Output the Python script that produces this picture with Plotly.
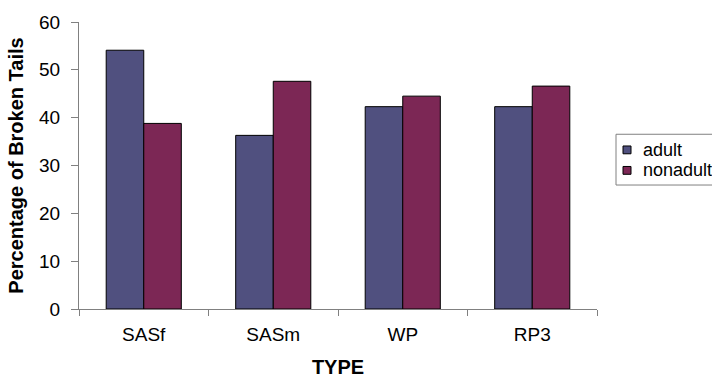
import plotly.graph_objects as go

categories = ["SASf", "SASm", "WP", "RP3"]
adult = [54.1, 36.3, 42.3, 42.3]
nonadult = [38.8, 47.6, 44.5, 46.6]
series_names = ["adult", "nonadult"]
y_ticks = [0, 10, 20, 30, 40, 50, 60]

FONT = "Liberation Sans, Arial, sans-serif"
COL_ADULT = "#50507f"
COL_NON = "#7c2755"

W, H = 712, 387
L, R, T, B = 79, 115, 20, 73
PW, PH = W - L - R, H - T - B


def px_x(px):
    return (px - L) / PW


def px_y(py):
    return (H - B - py) / PH


fig = go.Figure()
fig.add_trace(go.Bar(x=categories, y=adult, name=series_names[0], showlegend=False,
                     marker=dict(color=COL_ADULT, line=dict(color="#000000", width=1))))
fig.add_trace(go.Bar(x=categories, y=nonadult, name=series_names[1], showlegend=False,
                     marker=dict(color=COL_NON, line=dict(color="#000000", width=1))))

# legend drawn as a box with swatches and real text
shapes = [dict(type="rect", xref="paper", yref="paper",
               x0=px_x(616), x1=px_x(740), y0=px_y(187), y1=px_y(135),
               line=dict(color="#808080", width=1), fillcolor="rgba(0,0,0,0)")]
annotations = []
for name, col, cy in [(series_names[0], COL_ADULT, 151), (series_names[1], COL_NON, 172)]:
    shapes.append(dict(type="rect", xref="paper", yref="paper",
                       x0=px_x(623), x1=px_x(631), y0=px_y(cy + 4), y1=px_y(cy - 4),
                       line=dict(color="#000000", width=1), fillcolor=col))
    annotations.append(dict(text=name, xref="paper", yref="paper", x=px_x(641), y=px_y(cy),
                            xanchor="left", yanchor="middle", showarrow=False,
                            font=dict(family=FONT, size=18, color="black")))

fig.update_layout(
    width=W, height=H,
    margin=dict(l=L, r=R, t=T, b=B),
    paper_bgcolor="white", plot_bgcolor="white",
    font=dict(family=FONT, size=19, color="black"),
    barmode="group", bargap=0.42, bargroupgap=0,
    showlegend=False,
    shapes=shapes, annotations=annotations,
    xaxis=dict(
        title=dict(text="<b>TYPE</b>", font=dict(family=FONT, size=20), standoff=16),
        showline=True, linecolor="#808080", linewidth=1,
        ticks="outside", tickson="boundaries", ticklen=6, tickcolor="#808080",
        ticklabelstandoff=8,
        showgrid=False, tickfont=dict(size=19),
    ),
    yaxis=dict(
        title=dict(text="<b>Percentage of Broken Tails</b>", font=dict(family=FONT, size=20), standoff=10),
        range=[0, 60], tickvals=y_ticks,
        showline=True, linecolor="#808080", linewidth=1,
        ticks="outside", ticklen=7, tickcolor="#808080",
        ticklabelstandoff=7,
        showgrid=False, zeroline=False, tickfont=dict(size=19),
    ),
)

fig.write_html("out.html")
